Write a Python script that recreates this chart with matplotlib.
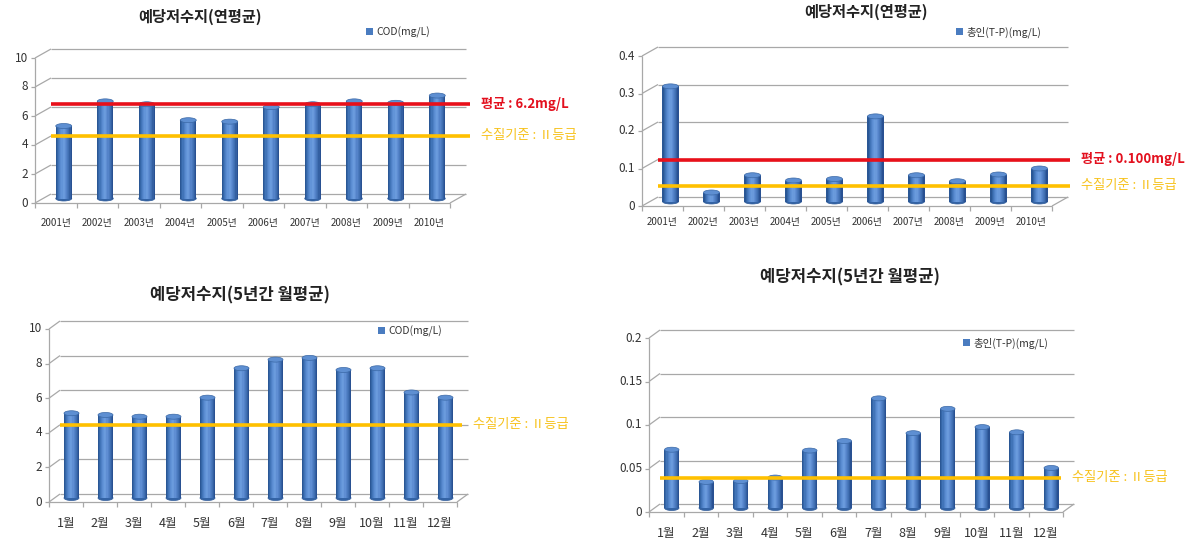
import matplotlib
matplotlib.use('Agg')
import matplotlib.pyplot as plt
import numpy as np
from matplotlib.patches import Ellipse
from matplotlib.colors import to_rgb

plt.rcParams['font.family'] = ['Noto Sans CJK KR', 'DejaVu Sans']

W, H, DPI = 1189, 540, 100

# ---------------- data ----------------
years = ['2001년', '2002년', '2003년', '2004년', '2005년',
         '2006년', '2007년', '2008년', '2009년', '2010년']
months = ['1월', '2월', '3월', '4월', '5월', '6월',
          '7월', '8월', '9월', '10월', '11월', '12월']

cod_year = [5.0, 6.7, 6.5, 5.4, 5.3, 6.3, 6.5, 6.7, 6.6, 7.1]
tp_year = [0.307, 0.024, 0.070, 0.056, 0.060, 0.227, 0.070, 0.054, 0.072, 0.088]
cod_month = [4.9, 4.8, 4.7, 4.7, 5.8, 7.5, 8.0, 8.1, 7.4, 7.5, 6.1, 5.8]
tp_month = [0.067, 0.030, 0.031, 0.035, 0.066, 0.077, 0.126, 0.086, 0.114, 0.093, 0.087, 0.046]

cod_ticks = [0, 2, 4, 6, 8, 10]
cod_tick_labels = ['0', '2', '4', '6', '8', '10']
tp_year_ticks = [0, 0.1, 0.2, 0.3, 0.4]
tp_year_tick_labels = ['0', '0.1', '0.2', '0.3', '0.4']
tp_month_ticks = [0, 0.05, 0.1, 0.15, 0.2]
tp_month_tick_labels = ['0', '0.05', '0.1', '0.15', '0.2']

cod_year_mean = 6.2
tp_year_mean = 0.100
cod_standard = 4.0
tp_standard = 0.03

title_year = '예당저수지(연평균)'
title_month = '예당저수지(5년간 월평균)'
legend_cod = 'COD(mg/L)'
legend_tp = '총인(T-P)(mg/L)'
mean_cod_label = '평균 : 6.2mg/L'
mean_tp_label = '평균 : 0.100mg/L'
standard_label = '수질기준 : Ⅱ등급'

# ---------------- styles ----------------
RED = '#E8101A'
RED_TXT = '#E3101E'
YEL = '#FFC000'
YEL_TXT = '#F7C21C'
GRID = '#A8A8A8'
TXT = '#333333'
SHADE_KEYS = ['#24508C', '#3F72B6', '#5C8ED3', '#6E9FE0', '#5685CB', '#3E6DB0', '#23498A']
TOPC = '#5E8FD2'
EDGE = '#3A68A6'
NSTRIP = 14


def shade_colors(keys, n):
    rgb = np.array([to_rgb(k) for k in keys])
    pos = np.linspace(0, 1, len(keys))
    t = (np.arange(n) + 0.5) / n
    return [tuple(np.interp(tt, pos, rgb[:, c]) for c in range(3)) for tt in t]


STRIPS = shade_colors(SHADE_KEYS, NSTRIP)

fig = plt.figure(figsize=(W / DPI, H / DPI), dpi=DPI)
fig.patch.set_facecolor('white')


def draw(g, cats, vals, ticks, tick_labels, ymax, legend_label, lines, title):
    x0, x1, y0, yt = g['x0'], g['x1'], g['y0'], g['yt']
    n = len(cats)
    ax = fig.add_axes([x0 / W, 1 - y0 / H, (x1 - x0) / W, (y0 - yt) / H])
    ax.set_xlim(-0.5, n - 0.5)
    ax.set_ylim(0, ymax)
    ax.axis('off')
    kx = (x1 - x0) / n
    ky = (y0 - yt) / ymax
    bdx, bdy = g['back'][0] / kx, g['back'][1] / ky
    mdx, mdy = bdx / 2, bdy / 2
    L, R = -0.5, n - 0.5
    gs = dict(color=GRID, lw=0.9, clip_on=False, solid_capstyle='butt', zorder=1)

    for t, lab in zip(ticks, tick_labels):
        ax.plot([L + bdx, R + bdx], [t + bdy, t + bdy], **gs)
        ax.plot([L, L + bdx], [t, t + bdy], **gs)
        ax.plot([L - 4 / kx, L], [t, t], **gs)
        ax.text(L - 7 / kx, t, lab, ha='right', va='center',
                fontsize=8.5, color=TXT)
    ax.plot([L, L], [0, ymax], **gs)
    ax.plot([L, R], [0, 0], **gs)
    ax.plot([R, R + bdx], [0, bdy], **gs)
    for k in range(n + 1):
        ax.plot([k - 0.5, k - 0.5], [0, -5 / ky], **gs)
    for i, c in enumerate(cats):
        ax.text(i, -(g['ly'] - y0) / ky, c, ha='center', va='center',
                fontsize=g['xfs'], color=TXT)

    # cylinders
    w = g['bw'] / kx
    xs = [i + mdx for i in range(n)]
    eh = 5 / ky
    for x in xs:
        ax.add_patch(Ellipse((x, mdy), w, eh, fc='#3464A6', ec='#2E5A98', lw=0.5,
                             clip_on=False, zorder=2))
    sw = w / NSTRIP
    handle = None
    for s, col in enumerate(STRIPS):
        xs_s = [x - w / 2 + sw * (s + 0.5) for x in xs]
        bc = ax.bar(xs_s, vals, width=sw * 1.15, bottom=mdy, color=col,
                    lw=0, clip_on=False, zorder=3)
        if s == NSTRIP // 2:
            handle = bc
    for x, v in zip(xs, vals):
        ax.add_patch(Ellipse((x, mdy + v), w, eh, fc=TOPC, ec=EDGE, lw=0.5,
                             clip_on=False, zorder=4))

    # reference lines
    for val, col, tcol, text, end_px, weight in lines:
        xe = (end_px - x0) / kx - 0.5
        ax.plot([L + bdx, xe], [val + bdy, val + bdy], color=col, lw=2.6,
                clip_on=False, zorder=6, solid_capstyle='butt')
        ax.text((end_px + 11 - x0) / kx - 0.5, val + bdy, text, color=tcol,
                fontsize=9.5, fontweight=weight, ha='left', va='center')

    leg = ax.legend([handle], [legend_label], loc='center left',
                    bbox_to_anchor=(g['leg'][0] / W, 1 - g['leg'][1] / H),
                    bbox_transform=fig.transFigure, frameon=False,
                    fontsize=7.5, handlelength=0.7, handleheight=0.7,
                    handletextpad=0.3, borderpad=0, borderaxespad=0)
    for t in leg.get_texts():
        t.set_color(TXT)
    leg.legend_handles[0].set_color('#4A7CC0')

    fig.text(g['title'][0] / W, 1 - g['title'][1] / H, title, ha='center',
             va='center', fontsize=g['tfs'], fontweight='bold', color='#222222')


g1 = dict(x0=35, x1=450, y0=203, yt=58, back=(16, 9), bw=16, ly=223, xfs=7,
          leg=(366, 32), title=(200, 17), tfs=11)
draw(g1, years, cod_year, cod_ticks, cod_tick_labels, 10, legend_cod,
     [(cod_year_mean, RED, RED_TXT, mean_cod_label, 470, 'bold'),
      (cod_standard, YEL, YEL_TXT, standard_label, 470, 'normal')],
     title_year)

g2 = dict(x0=642, x1=1052, y0=206, yt=56, back=(16, 9), bw=16, ly=222, xfs=7,
          leg=(956, 32), title=(866, 12), tfs=11)
draw(g2, years, tp_year, tp_year_ticks, tp_year_tick_labels, 0.4, legend_tp,
     [(tp_year_mean, RED, RED_TXT, mean_tp_label, 1070, 'bold'),
      (tp_standard, YEL, YEL_TXT, standard_label, 1070, 'normal')],
     title_year)

g3 = dict(x0=49, x1=457, y0=502, yt=329, back=(11, 8), bw=15, ly=523, xfs=9,
          leg=(378, 331), title=(240, 295), tfs=12)
draw(g3, months, cod_month, cod_ticks, cod_tick_labels, 10, legend_cod,
     [(cod_standard, YEL, YEL_TXT, standard_label, 462, 'normal')],
     title_month)

g4 = dict(x0=649, x1=1063, y0=512, yt=338, back=(11, 8), bw=14.5, ly=533, xfs=9,
          leg=(963, 343), title=(850, 277), tfs=12)
draw(g4, months, tp_month, tp_month_ticks, tp_month_tick_labels, 0.2, legend_tp,
     [(tp_standard, YEL, YEL_TXT, standard_label, 1061, 'normal')],
     title_month)

fig.savefig('out.png', dpi=DPI, facecolor='white')
